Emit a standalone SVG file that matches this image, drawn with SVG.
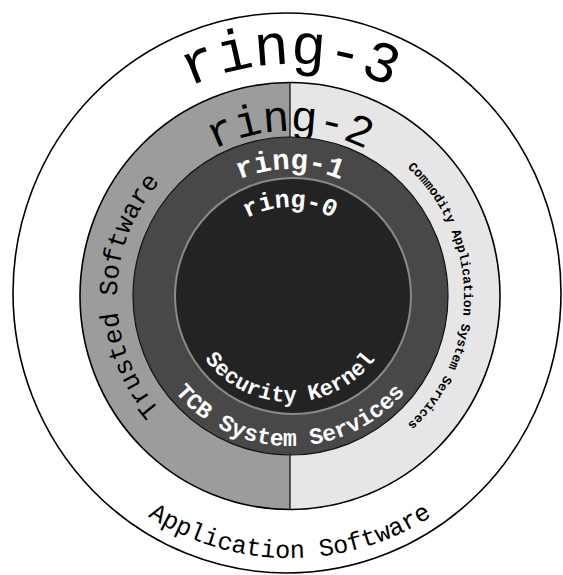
<svg xmlns="http://www.w3.org/2000/svg" width="563" height="575" viewBox="0 0 563 575">
<style>
  .mono { font-family: "Liberation Mono", "DejaVu Sans Mono", monospace; }
  .dark { fill: #000000; }
  .light { fill: #ffffff; font-weight: bold; }
</style>
<defs>
  <!-- clockwise paths starting at bottom: left=25%, top=50%, right=75% -->
  <path id="cw232" d="M290,528 A232,232 0 1 1 290,64 A232,232 0 1 1 290,528"/>
  <path id="cw165" d="M290,461 A165,165 0 1 1 290,131 A165,165 0 1 1 290,461"/>
  <path id="cw173" d="M290,469 A173,173 0 1 1 290,123 A173,173 0 1 1 290,469"/>
  <path id="cw174" d="M290,470 A174,174 0 1 1 290,122 A174,174 0 1 1 290,470"/>
  <path id="cw127" d="M290,423 A127,127 0 1 1 290,169 A127,127 0 1 1 290,423"/>
  <path id="cw89" d="M290,385 A89,89 0 1 1 290,207 A89,89 0 1 1 290,385"/>
  <!-- counter-clockwise paths starting at top: bottom=50% -->
  <path id="ccw106" d="M290,190 A106,106 0 1 0 290,402 A106,106 0 1 0 290,190"/>
  <path id="ccw150" d="M290,146 A150,150 0 1 0 290,446 A150,150 0 1 0 290,146"/>
  <path id="ccw262" d="M290,34 A262,262 0 1 0 290,558 A262,262 0 1 0 290,34"/>
</defs>

<g id="ring-3">
  <ellipse cx="287" cy="293" rx="274" ry="280" fill="#ffffff" stroke="#000" stroke-width="1.6"/>
  <text class="mono dark" font-size="58"><textPath href="#cw232" startOffset="50%" text-anchor="middle">ring-3</textPath></text>
  <text class="mono dark" font-size="25"><textPath href="#ccw262" startOffset="50%" text-anchor="middle">Application Software</textPath></text>
</g>

<g id="ring-2">
  <path d="M290,82.5 A210,213.5 0 0 0 290,509.5 Z" fill="#9c9c9c"/>
  <path d="M290,82.5 A210,213.5 0 0 1 290,509.5 Z" fill="#e6e6e6"/>
  <ellipse cx="290" cy="296" rx="210" ry="213.5" fill="none" stroke="#000" stroke-width="1.6"/>
  <line x1="290" y1="82.5" x2="290" y2="509.5" stroke="#000" stroke-width="1.2"/>
  <text class="mono dark" font-size="44"><textPath href="#cw165" startOffset="50%" text-anchor="middle">ring-2</textPath></text>
  <text class="mono dark" font-size="26"><textPath href="#cw173" startOffset="25%" text-anchor="middle">Trusted Software</textPath></text>
  <text class="mono dark" font-size="13" font-weight="bold"><textPath href="#cw174" startOffset="75%" text-anchor="middle">Commodity Application System Services</textPath></text>
</g>

<g id="ring-1">
  <ellipse cx="290.5" cy="296" rx="157.5" ry="159" fill="#484848" stroke="#111" stroke-width="1.2"/>
  <text class="mono light" font-size="29"><textPath href="#cw127" startOffset="50%" text-anchor="middle">ring-1</textPath></text>
  <text class="mono light" font-size="23"><textPath href="#ccw150" startOffset="50%" text-anchor="middle">TCB System Services</textPath></text>
</g>

<g id="ring-0">
  <circle cx="293" cy="296" r="118" fill="#232323" stroke="#8a8a8a" stroke-width="2"/>
  <text class="mono light" font-size="25" font-weight="normal"><textPath href="#cw89" startOffset="50%" text-anchor="middle">ring-0</textPath></text>
  <text class="mono light" font-size="22"><textPath href="#ccw106" startOffset="50%" text-anchor="middle">Security Kernel</textPath></text>
</g>
</svg>
